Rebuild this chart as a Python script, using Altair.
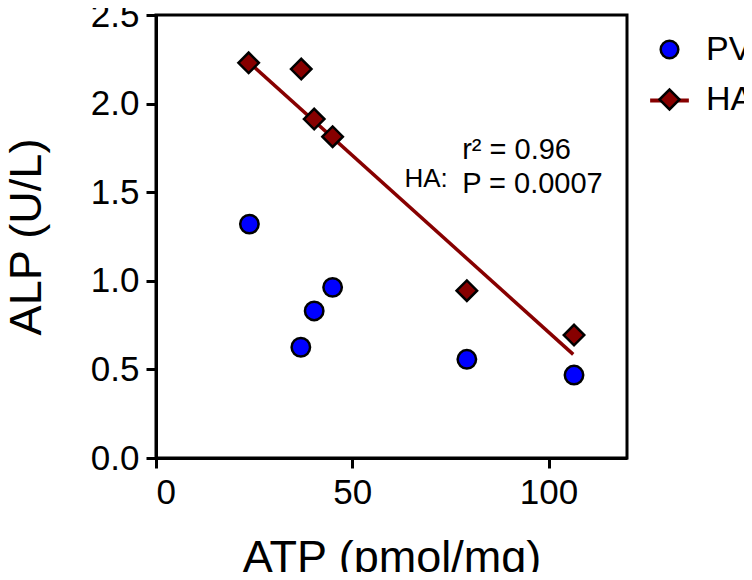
import altair as alt
import pandas as pd

# ---- data ----
pv_x = [23.8, 36.9, 40.3, 45.0, 79.2, 106.5]
pv_y = [1.32, 0.625, 0.83, 0.963, 0.557, 0.468]

ha_x = [23.6, 37.0, 40.3, 45.0, 79.2, 106.5]
ha_y = [2.23, 2.195, 1.913, 1.813, 0.944, 0.694]

fit_x = [23.6, 106.3]
fit_y = [2.235, 0.585]

x_ticks = [0, 50, 100]
y_ticks = [0.0, 0.5, 1.0, 1.5, 2.0, 2.5]

series = ["PV", "HA"]
colors = ["#0000FF", "#870000"]

ann_label = ["HA:"]
ann_label_x = [63.3]
ann_label_y = [1.532]
ann_stats = ["r\u00b2 = 0.96", "P = 0.0007"]
ann_stats_x = [78.0, 78.0]
ann_stats_y = [1.686, 1.497]

# ---- tables ----
pv = pd.DataFrame({"x": pv_x, "y": pv_y})
ha = pd.DataFrame({"x": ha_x, "y": ha_y})
leg = pd.DataFrame({"series": series})
fit = pd.DataFrame({"x": fit_x, "y": fit_y, "fit": ["HA"] * len(fit_x)})
lab = pd.DataFrame({"x": ann_label_x, "y": ann_label_y, "t": ann_label})
stats = pd.DataFrame({"x": ann_stats_x, "y": ann_stats_y, "t": ann_stats})

FONT = "Liberation Sans"
xscale = alt.Scale(domain=[0, 120], nice=False)
yscale = alt.Scale(domain=[0, 2.5], nice=False)

xenc = alt.X("x:Q", scale=xscale, axis=alt.Axis(
    values=x_ticks, title="ATP (pmol/mg)", titleY=113, titleBaseline="alphabetic",
    labelPadding=7))
yenc = alt.Y("y:Q", scale=yscale, axis=alt.Axis(
    values=y_ticks, format=".1f", title="ALP (U/L)", titleX=-116,
    titleBaseline="alphabetic", labelPadding=7))
xs = alt.X("x:Q", scale=xscale)
ys = alt.Y("y:Q", scale=yscale)

LX, LY = 492, 13

line = alt.Chart(fit).mark_line(strokeWidth=3.5).encode(
    x=xenc, y=yenc,
    color=alt.Color("fit:N", scale=alt.Scale(domain=["HA"], range=[colors[1]]),
                    legend=alt.Legend(title=None, orient="none", legendX=LX, legendY=LY + 51,
                                      padding=0, symbolType="stroke", symbolSize=1500,
                                      symbolStrokeWidth=4, labelFontSize=34, labelFont=FONT,
                                      labelOpacity=0, labelOffset=15, zindex=0)),
)

pv_pts = alt.Chart(pv).mark_point(shape="circle", filled=True, fill=colors[0], stroke="black",
                                  strokeWidth=2.5, opacity=1, size=340).encode(x=xs, y=ys)
ha_pts = alt.Chart(ha).mark_point(shape="diamond", filled=True, fill=colors[1], stroke="black",
                                  strokeWidth=2.5, opacity=1, size=420).encode(x=xs, y=ys)

circle_path = "M0.44,0A0.44,0.44 0 1,1 -0.44,0A0.44,0.44 0 1,1 0.44,0Z"
diamond_path = "M-0.5,0L0,-0.5L0.5,0L0,0.5Z"

legend_cfg = alt.Legend(title=None, orient="none", legendX=LX, legendY=LY, padding=0,
                        symbolSize=1600, symbolStrokeWidth=2.5,
                        symbolOpacity=1, labelFontSize=34, labelFont=FONT, labelColor="black",
                        labelOffset=15, rowPadding=11, zindex=1)
legend_layer = alt.Chart(leg).mark_point(filled=True, strokeWidth=2.5, opacity=0).encode(
    shape=alt.Shape("series:N", scale=alt.Scale(domain=series, range=[circle_path, diamond_path]),
                    legend=legend_cfg),
    fill=alt.Fill("series:N", scale=alt.Scale(domain=series, range=colors), legend=legend_cfg),
    stroke=alt.Stroke("series:N", scale=alt.Scale(domain=series, range=["black", "black"]),
                      legend=legend_cfg),
)

t1 = alt.Chart(lab).mark_text(align="left", baseline="alphabetic", fontSize=26, font=FONT,
                              color="black").encode(x=xs, y=ys, text="t:N")
t2 = alt.Chart(stats).mark_text(align="left", baseline="alphabetic", fontSize=29, font=FONT,
                                color="black").encode(x=xs, y=ys, text="t:N")

chart = alt.layer(line, pv_pts, ha_pts, legend_layer, t1, t2).properties(
    width=471, height=443,
    padding={"left": 148, "top": 7, "right": 117, "bottom": 114},
    autosize=alt.AutoSizeParams(type="none"),
).configure_view(
    stroke="black", strokeWidth=3
).configure_axis(
    grid=False, domainColor="black", domainWidth=3, tickColor="black", tickWidth=3,
    tickSize=10, labelFont=FONT, labelFontSize=35, labelColor="black",
    titleFont=FONT, titleFontSize=45, titleFontWeight="normal", titleColor="black",
)

chart.save("out.html", embed_options={"renderer": "svg", "actions": False})
